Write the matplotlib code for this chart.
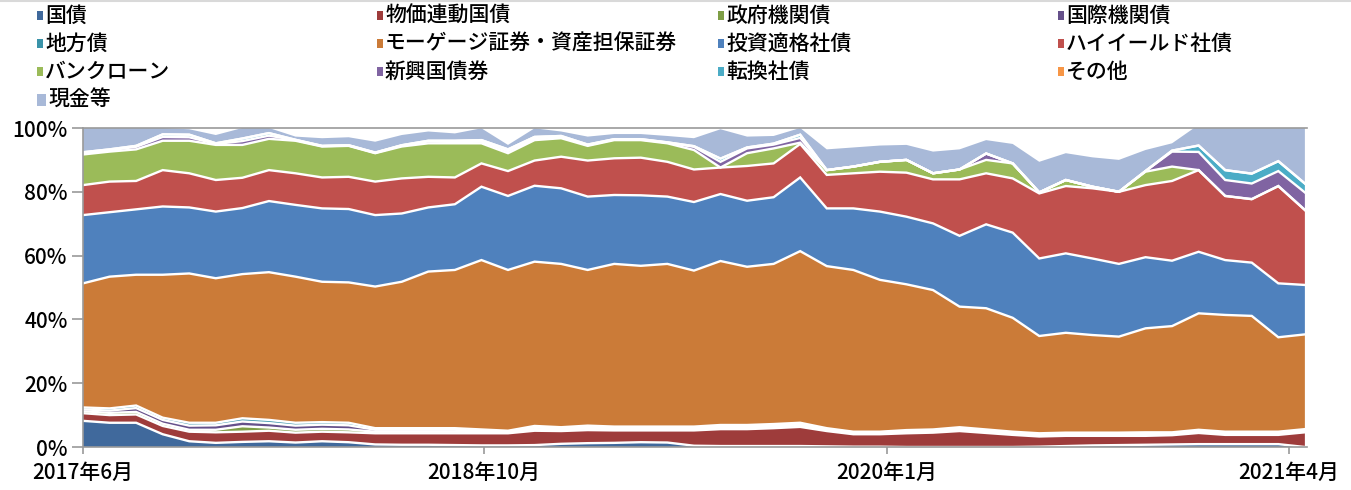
import numpy as np
import matplotlib
matplotlib.use('Agg')
import matplotlib.pyplot as plt
from matplotlib.patches import Rectangle
from matplotlib.lines import Line2D

plt.rcParams['font.family'] = ['Noto Sans CJK JP', 'DejaVu Sans']
plt.rcParams['font.weight'] = 'medium'

# series (stack order, bottom -> top), values in % of portfolio, monthly points
labels = ['国債', '物価連動国債', '政府機関債', '国際機関債',
          '地方債', 'モーゲージ証券・資産担保証券', '投資適格社債', 'ハイイールド社債',
          'バンクローン', '新興国債券', '転換社債', 'その他',
          '現金等']
colors = ['#40699C', '#9E3C3B', '#7E9E45', '#65508A',
          '#3A93A9', '#CB7B38', '#4F81BD', '#C0504D',
          '#9BBB59', '#8064A2', '#4BACC6', '#F79646',
          '#A8B9D8']

govt = [8.2, 7.6, 7.6, 4.0, 1.8, 1.3, 1.6, 1.8, 1.4, 1.8,
        1.5, 0.8, 0.7, 0.7, 0.6, 0.5, 0.5, 0.6, 1.0, 1.2,
        1.3, 1.5, 1.4, 0.4, 0.3, 0.3, 0.3, 0.3, 0.2, 0.1,
        0.1, 0.0, 0.0, 0.0, 0.0, 0.0, 0.1, 0.3, 0.5, 0.6,
        0.7, 0.8, 0.9, 0.9, 0.9, 0.9, 0.0]
tips = [2.4, 2.4, 2.6, 2.6, 3.0, 3.3, 3.2, 3.3, 3.1, 3.0,
        3.1, 3.5, 3.6, 3.6, 3.7, 3.8, 3.8, 4.5, 4.0, 4.1,
        3.9, 3.7, 3.8, 4.8, 5.3, 5.3, 5.6, 6.0, 4.8, 3.9,
        3.9, 4.3, 4.5, 5.0, 4.4, 3.8, 3.2, 3.2, 3.0, 2.9,
        2.8, 2.9, 3.5, 2.9, 2.9, 2.9, 4.6]
agency = [0.6, 0.7, 0.8, 0.7, 0.6, 0.8, 1.7, 1.0, 0.9, 0.9,
          0.9, 0.5, 0.5, 0.5, 0.5, 0.4, 0.3, 0.5, 0.4, 0.5,
          0.4, 0.4, 0.4, 0.4, 0.5, 0.5, 0.5, 0.5, 0.3, 0.3,
          0.3, 0.4, 0.4, 0.4, 0.4, 0.4, 0.4, 0.4, 0.4, 0.4,
          0.4, 0.3, 0.4, 0.4, 0.4, 0.4, 0.4]
supra = [0.6, 0.7, 1.2, 1.2, 1.3, 1.4, 1.5, 1.4, 1.3, 1.3,
         1.3, 0.6, 0.6, 0.6, 0.6, 0.4, 0.3, 0.5, 0.4, 0.5,
         0.4, 0.4, 0.4, 0.4, 0.4, 0.4, 0.4, 0.4, 0.3, 0.3,
         0.3, 0.3, 0.3, 0.4, 0.4, 0.3, 0.3, 0.3, 0.3, 0.3,
         0.4, 0.3, 0.3, 0.3, 0.3, 0.3, 0.3]
muni = [0.6, 0.7, 0.8, 0.7, 0.9, 0.8, 1.0, 1.0, 0.9, 0.8,
        0.8, 0.5, 0.5, 0.5, 0.5, 0.4, 0.2, 0.5, 0.4, 0.4,
        0.4, 0.4, 0.4, 0.4, 0.4, 0.4, 0.4, 0.4, 0.3, 0.2,
        0.2, 0.3, 0.3, 0.4, 0.3, 0.3, 0.3, 0.3, 0.3, 0.3,
        0.3, 0.3, 0.3, 0.3, 0.3, 0.3, 0.3]
mbs = [38.9, 41.3, 41.0, 44.8, 46.8, 45.3, 45.2, 46.3, 45.8, 44.0,
       44.0, 44.4, 45.9, 49.1, 49.6, 53.1, 50.4, 51.5, 51.2, 48.8,
       51.0, 50.4, 51.0, 48.9, 51.4, 49.6, 50.2, 53.8, 50.8, 50.7,
       47.6, 45.7, 43.7, 37.8, 38.0, 35.7, 30.5, 31.3, 30.6, 30.1,
       32.6, 33.3, 36.5, 36.6, 36.3, 29.6, 29.7]
ig_corp = [21.4, 20.2, 20.5, 21.4, 20.7, 20.9, 20.7, 22.3, 22.5, 23.0,
           23.0, 22.4, 21.4, 20.1, 20.6, 23.0, 23.2, 23.8, 23.7, 23.0,
           21.6, 22.1, 21.1, 21.5, 21.0, 20.7, 20.9, 23.1, 18.1, 19.3,
           21.4, 21.2, 20.9, 22.2, 26.3, 26.7, 24.3, 24.9, 24.0, 22.8,
           22.3, 20.5, 19.3, 17.2, 16.7, 16.9, 15.5]
high_yield = [9.4, 9.6, 8.9, 11.4, 10.7, 9.9, 9.5, 9.7, 9.9, 9.7,
              10.1, 10.5, 11.0, 9.6, 8.4, 7.3, 7.8, 7.9, 9.9, 11.3,
              11.5, 11.8, 10.9, 10.2, 8.3, 10.9, 10.6, 10.5, 10.5, 11.0,
              12.5, 13.8, 13.8, 17.7, 16.0, 17.0, 20.4, 21.1, 22.0, 22.6,
              22.6, 25.0, 25.6, 20.1, 19.9, 30.5, 23.5]
bank_loan = [9.6, 9.4, 9.9, 9.2, 10.2, 11.0, 10.3, 9.8, 10.2, 9.7,
             9.7, 8.9, 10.0, 10.5, 10.7, 6.3, 5.6, 6.4, 5.8, 4.6,
             5.7, 5.5, 5.8, 6.1, 0.0, 4.0, 4.7, 0.4, 1.5, 2.1,
             3.1, 4.0, 1.9, 3.1, 4.2, 4.7, 0.3, 1.9, 0.5, 0.0,
             4.2, 4.5, 0.0, 0.0, 0.0, 0.0, 0.0]
em_debt = [0.3, 0.4, 0.8, 1.2, 1.1, 0.3, 1.2, 1.0, 0.2, 0.1,
           0.1, 0.1, 0.3, 0.6, 0.4, 0.5, 0.6, 0.5, 0.4, 0.2,
           0.2, 0.2, 0.2, 1.0, 1.8, 1.5, 1.2, 1.5, 0.0, 0.0,
           0.0, 0.0, 0.0, 0.0, 2.0, 0.0, 0.0, 0.0, 0.0, 0.0,
           0.2, 4.7, 5.7, 5.0, 4.9, 4.7, 5.5]
convertible = [0.4, 0.3, 0.3, 0.8, 0.8, 0.2, 0.8, 0.8, 0.1, 0.1,
               0.1, 0.1, 0.1, 0.2, 0.4, 0.5, 0.6, 0.5, 0.3, 0.2,
               0.1, 0.1, 0.1, 0.2, 1.0, 0.3, 0.3, 1.0, 0.0, 0.0,
               0.0, 0.0, 0.0, 0.0, 0.0, 0.0, 0.0, 0.0, 0.0, 0.0,
               0.0, 0.3, 2.0, 3.1, 3.1, 3.1, 2.8]
other = [0.0] * 47
cash = [7.6, 6.7, 5.6, 2.0, 1.7, 2.6, 3.3, 1.6, 1.0, 2.4,
        2.5, 3.4, 3.2, 2.9, 2.3, 3.7, 1.4, 2.7, 1.4, 2.5,
        1.6, 1.6, 2.0, 2.5, 9.2, 3.4, 2.4, 2.1, 6.5, 6.0,
        5.1, 4.7, 6.8, 6.3, 4.2, 6.1, 9.6, 8.4, 9.2, 10.0,
        6.6, 2.3, 6.5, 14.2, 15.3, 11.4, 18.4]

tick_labels = ['2017年6月', '2018年10月', '2020年1月', '2021年4月']

series = [govt, tips, agency, supra, muni, mbs, ig_corp, high_yield,
          bank_loan, em_debt, convertible, other, cash]

W, H = 1351, 490
fig = plt.figure(figsize=(W / 100, H / 100), dpi=100)
ax = fig.add_axes([83 / W, 1 - 447 / H, (1307 - 83) / W, (447 - 128) / H])

x = np.arange(len(govt))
ax.stackplot(x, *series, colors=colors, linewidth=0)

# white borders between the layers
tops = np.cumsum(np.array(series), axis=0)
for top in tops[:-1]:
    ax.plot(x, top, color='white', lw=1.7, solid_joinstyle='miter')

ax.set_xlim(0, 46.08)
ax.set_ylim(0, 100)
ax.set_yticks([0, 20, 40, 60, 80, 100])
ax.set_yticklabels(['0%', '20%', '40%', '60%', '80%', '100%'], fontsize=15)
ax.set_xticks([0, 15.09, 30.26, 45.39])
ax.set_xticklabels(tick_labels, fontsize=15)

for s in ['left', 'bottom', 'top']:
    ax.spines[s].set_color('#9a9a9a')
    ax.spines[s].set_linewidth(1.2)
ax.spines['right'].set_visible(False)
ax.tick_params(axis='y', length=8, width=1.2, color='#9a9a9a', pad=3)
ax.tick_params(axis='x', length=5, width=1.2, color='#9a9a9a', pad=6)

# thin frame line along the top edge of the picture
fig.add_artist(Line2D([0, 1], [1 - 1 / H, 1 - 1 / H], color='#d9d9d9', lw=1.5))

# legend, 4 columns
col_x = [37, 377, 718, 1058]
row_y = [16, 44, 72, 100]
for i, (name, c) in enumerate(zip(labels, colors)):
    px = col_x[i % 4]
    py = row_y[i // 4]
    w, h = (9, 12) if name == '現金等' else (6, 9)
    fig.add_artist(Rectangle((px / W, 1 - (py + h / 2) / H), w / W, h / H,
                             transform=fig.transFigure, color=c, lw=0))
    fig.text((px + w + 2) / W, 1 - py / H, name, fontsize=15,
             va='center', ha='left')

fig.savefig('out.png', dpi=100)
